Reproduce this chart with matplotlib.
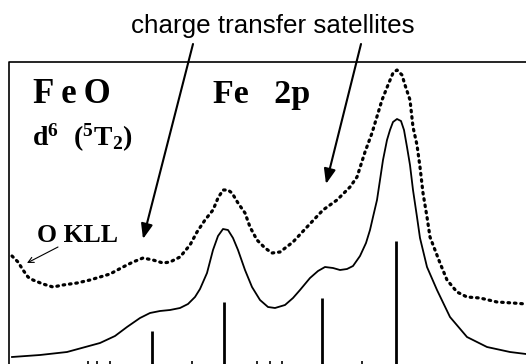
import matplotlib.pyplot as plt

# Coordinates (x to the right, y downwards, pixels)
solid_x = [12, 40, 67, 100, 115, 127, 140, 150, 160, 170, 180, 188, 195, 200, 207,
           213, 218, 223, 228, 233, 238, 245, 252, 260, 268, 275, 285, 293, 300, 310,
           318, 325, 333, 340, 347, 353, 360, 366, 370, 373, 377, 380, 383, 387, 390,
           393, 397, 401, 404, 407, 410, 413, 417, 420, 427, 437, 450, 467, 487, 510,
           526]
solid_y = [357, 355, 352, 343, 336, 327, 318, 313, 311, 310, 308, 304, 297, 289, 273,
           250, 236, 229, 230, 238, 250, 270, 287, 300, 307, 308, 305, 298, 290, 278,
           271, 267, 268, 270, 269, 266, 256, 243, 230, 217, 200, 180, 160, 140, 130,
           122, 119, 121, 130, 147, 165, 190, 217, 238, 267, 290, 317, 337, 347, 352,
           354]

dot_x = [12, 18, 23, 28, 33, 43, 53, 63, 77, 90, 100, 110, 123, 133, 143, 153, 163,
         170, 180, 190, 197, 205, 213, 218, 223, 228, 232, 238, 245, 250, 257, 265,
         272, 280, 293, 307, 323, 337, 350, 357, 365, 372, 382, 388, 393, 397, 402,
         405, 410, 413, 417, 420, 423, 427, 430, 435, 440, 447, 457, 467, 480, 497,
         513, 526]
dot_y = [256, 262, 270, 277, 280, 284, 287, 285, 283, 280, 277, 274, 267, 262, 258,
         260, 263, 262, 257, 245, 232, 220, 210, 198, 190, 190, 193, 203, 213, 227,
         240, 248, 253, 252, 242, 227, 210, 200, 187, 177, 152, 133, 100, 85, 73, 70,
         75, 85, 100, 127, 145, 167, 193, 217, 237, 250, 263, 280, 292, 297, 298,
         302, 303, 304]

# multiplet lines (position, top)
stick_x = [152, 224, 322, 396]
stick_top = [331, 302, 298, 241]

# cut-off marks along the bottom edge
frag_x = [88, 97, 110, 192, 257, 270, 282, 362]

plt.rcParams['mathtext.fontset'] = 'custom'
plt.rcParams['mathtext.rm'] = 'Liberation Serif:bold'
plt.rcParams['mathtext.bf'] = 'Liberation Serif:bold'
plt.rcParams['mathtext.it'] = 'Liberation Serif:bold'

fig = plt.figure(figsize=(5.26, 3.64), dpi=100)
ax = fig.add_axes([0, 0, 1, 1])
ax.set_xlim(0, 526)
ax.set_ylim(364, 0)
ax.axis('off')

# frame (left and top edges only, rest is cropped)
ax.plot([9, 9, 526], [364, 62, 62], color='black', lw=1.2, solid_capstyle='butt')

ax.plot(solid_x, solid_y, color='black', lw=1.3, solid_joinstyle='round')
ax.plot(dot_x, dot_y, color='black', lw=2.3, linestyle=(0, (0.5, 1.5)),
        dash_capstyle='round')

ax.vlines(stick_x, stick_top, 364, color='black', lw=2)
ax.vlines(frag_x, 361, 364, color='black', lw=1.2)

serif = ['Liberation Serif', 'DejaVu Serif']
ax.text(273, 33, 'charge transfer satellites', family='Liberation Sans',
        fontsize=18.7, ha='center', va='baseline')
ax.text(33, 103, 'F\u2009e\u2009O', family=serif, fontweight='bold', fontsize=25,
        ha='left', va='baseline')
ax.text(213, 103, 'Fe   2p', family=serif, fontweight='bold', fontsize=24.5,
        ha='left', va='baseline')
ax.text(32, 146, r'$\mathbf{d^6\ \ (^5T_2)}$', fontsize=20, ha='left', va='baseline')
ax.text(37, 242, 'O KLL', family=serif, fontweight='bold', fontsize=18.5,
        ha='left', va='baseline')

arrow = dict(arrowstyle='-|>,head_length=0.9,head_width=0.35', color='black', lw=1.5,
             shrinkA=0, shrinkB=0)
ax.annotate('', xy=(143, 239), xytext=(193, 44), arrowprops=arrow)
ax.annotate('', xy=(326, 184), xytext=(361, 44), arrowprops=arrow)
ax.annotate('', xy=(27, 263), xytext=(58, 247),
            arrowprops=dict(arrowstyle='->,head_length=0.4,head_width=0.2',
                            color='black', lw=0.8, shrinkA=0, shrinkB=0))

fig.savefig('out.png', dpi=100)
